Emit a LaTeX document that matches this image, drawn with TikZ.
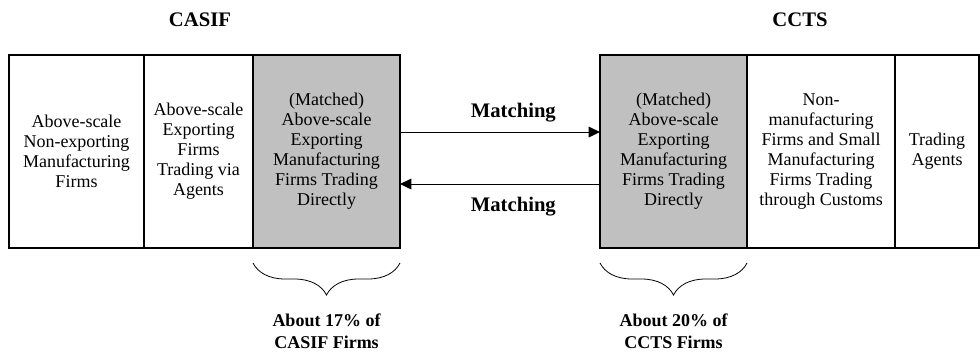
\documentclass[tikz,border=0pt]{standalone}
\usepackage{fontspec}
\setmainfont{Liberation Serif}
\usepackage{tikz}
\usetikzlibrary{arrows.meta, positioning, decorations.pathreplacing}
\definecolor{matchgray}{HTML}{C0C0C0}

\begin{document}
\begin{tikzpicture}[x=0.75pt, y=-0.75pt, >={Triangle[length=8.5pt, width=8pt]},
    firmbox/.style={draw, line width=0.8pt, minimum height=144.75pt, inner sep=0pt, outer sep=0pt, align=center, font=\fontsize{13.5}{15}\selectfont},
    matchbox/.style={firmbox, fill=matchgray},
    headlabel/.style={font=\fontsize{15.5}{18}\selectfont\bfseries},
    sharelabel/.style={align=center, font=\fontsize{13.5}{16}\selectfont\bfseries},
    sharebrace/.style={decorate, decoration={brace, mirror, amplitude=24pt}, line width=0.6pt}]
    \useasboundingbox (0,0) rectangle (980,353);

    % CASIF block
    \node[headlabel] (casif) at (200,20) {CASIF};
    \node[firmbox, minimum width=101.25pt] (nonexp) at (76.5,151.5) {Above-scale\\Non-exporting\\Manufacturing\\Firms};
    \node[firmbox, minimum width=81.75pt, right=0pt of nonexp] (agentexp) {Above-scale\\Exporting\\Firms\\Trading via\\Agents};
    \node[matchbox, minimum width=110.25pt, right=0pt of agentexp] (casifmatch) {(Matched)\\Above-scale\\Exporting\\Manufacturing\\Firms Trading\\Directly};

    % CCTS block
    \node[headlabel] (ccts) at (800,20) {CCTS};
    \node[matchbox, minimum width=110.25pt] (cctsmatch) at (673.5,151.5) {(Matched)\\Above-scale\\Exporting\\Manufacturing\\Firms Trading\\Directly};
    \node[firmbox, minimum width=111pt, right=0pt of cctsmatch] (smallfirms) {Non-\\manufacturing\\Firms and Small\\Manufacturing\\Firms Trading\\through Customs};
    \node[firmbox, minimum width=63pt, right=0pt of smallfirms] (agents) {Trading\\Agents};

    % Matching in both directions
    \draw[->, line width=0.8pt] ([yshift=14.6pt]casifmatch.east) -- node[headlabel, above=4pt, xshift=10pt] (matchto) {Matching} ([yshift=14.6pt]cctsmatch.west);
    \draw[->, line width=0.8pt] ([yshift=-24.4pt]cctsmatch.west) -- node[headlabel, below=6pt, xshift=10pt] (matchback) {Matching} ([yshift=-24.4pt]casifmatch.east);

    % Shares of matched firms
    \draw[sharebrace] ([yshift=-11.25pt]casifmatch.south west) -- ([yshift=-11.25pt]casifmatch.south east);
    \node[sharelabel, below=46pt of casifmatch] (casifshare) {About 17\% of\\CASIF Firms};
    \draw[sharebrace] ([yshift=-11.25pt]cctsmatch.south west) -- ([yshift=-11.25pt]cctsmatch.south east);
    \node[sharelabel, below=46pt of cctsmatch] (cctsshare) {About 20\% of\\CCTS Firms};
\end{tikzpicture}
\end{document}
